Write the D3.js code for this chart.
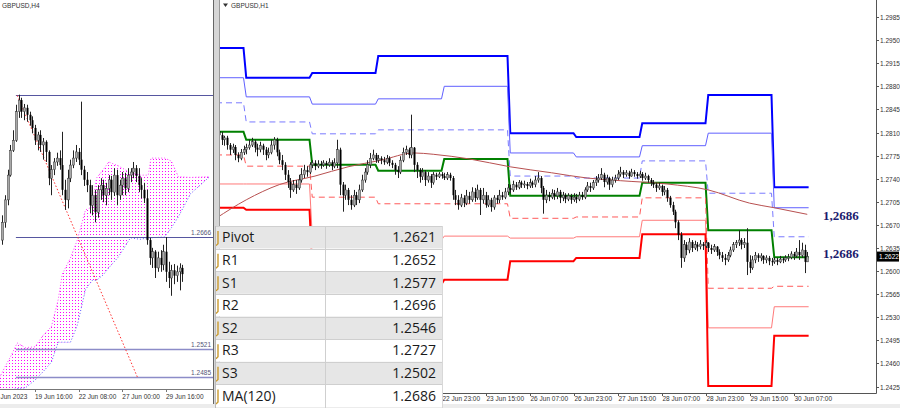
<!DOCTYPE html>
<html><head><meta charset="utf-8">
<script src="https://cdn.jsdelivr.net/npm/d3@7"></script>
<style>html,body{margin:0;padding:0;background:#fff;}svg{display:block;font-family:"Liberation Sans",Arial,sans-serif;}</style>
</head><body><svg id="c" width="900" height="408"></svg>
<script>
const PIP = 1e-4;
// ---------- H4 (left) data, in pips (x1e-4) ----------
const h4Open0 = 12662;
const h4Close = [12685,12714,12746,12778,12791,12828,12843,12828,12833,12824,12817,12807,12791,12798,12785,12789,12776,12742,12753,12763,12768,12759,12727,12714,12742,12759,12768,12776,12766,12753,12740,12733,12707,12720,12698,12727,12733,12720,12729,12740,12724,12746,12720,12733,12742,12729,12746,12750,12755,12745,12733,12727,12716,12662,12639,12647,12626,12639,12630,12647,12621,12613,12623,12616,12621,12626,12618];
const h4High = [12694,12720,12753,12785,12804,12837,12850,12846,12838,12837,12828,12822,12811,12802,12804,12794,12791,12778,12759,12768,12775,12778,12802,12740,12753,12766,12778,12785,12781,12841,12758,12750,12740,12733,12727,12733,12742,12740,12736,12746,12745,12755,12753,12740,12750,12749,12755,12755,12763,12759,12755,12742,12736,12727,12665,12652,12649,12647,12649,12656,12666,12634,12630,12631,12629,12632,12630];
const h4Low = [12656,12678,12707,12744,12776,12789,12820,12820,12817,12815,12810,12800,12785,12778,12776,12766,12763,12733,12720,12746,12758,12753,12720,12701,12703,12737,12755,12763,12759,12746,12732,12724,12697,12694,12685,12691,12714,12711,12707,12720,12714,12719,12707,12714,12720,12720,12724,12737,12742,12737,12724,12716,12710,12656,12630,12626,12613,12621,12621,12623,12608,12600,12590,12605,12608,12597,12608];
const h4TickIdx = [12,28,44,60];
const h4TickLbl = ["19 Jun 16:00","22 Jun 08:00","27 Jun 00:00","29 Jun 16:00"];
const h4FirstLbl = "Jun 2023";
const h4Levels = [1.2850,1.2666,1.2521,1.2485];
const h4LevelLbl = ["","1.2666","1.2521","1.2485"];
const h4TrendIdx = [5.5,49.5];
const h4TrendVal = [1.2849,1.2485];
const cloudIdx = [-1,1,3,5.5,8.5,12,15,18,20.5,22,25,27.5,30.5,33,34.5,37,39,42.5,47,50.5,53.5,54.5,59.5,62,64.5,69,76];
const cloudTop = [1.2484,1.2498,1.2511,1.2529,1.2523,1.2524,1.2539,1.2550,1.2585,1.2618,1.2639,1.2662,1.2701,1.2705,1.2742,1.2753,1.2763,1.2758,1.2749,1.2746,1.2746,1.2768,1.2768,1.2764,1.2744,1.2743,1.2744];
const cloudBot = [1.2468,1.2468,1.2468,1.2470,1.2471,1.2481,1.2492,1.2504,1.2530,1.2530,1.2530,1.2552,1.2598,1.2610,1.2610,1.2617,1.2626,1.2640,1.2665,1.2663,1.2665,1.2665,1.2666,1.2678,1.2692,1.2722,1.2744];

// ---------- H1 (right) data, in pips ----------
const h1Open0 = 12812;
const h1Close = [12806,12799,12802,12791,12784,12788,12776,12771,12780,12784,
12787,12791,12796,12787,12784,12790,12784,12776,12780,12791,
12799,12780,12768,12761,12746,12735,12723,12731,12726,12738,
12746,12753,12750,12761,12764,12759,12762,12761,12764,12761,
12765,12759,12764,12784,12731,12715,12723,12708,12700,12715,
12708,12723,12738,12750,12761,12771,12776,12768,12771,12768,
12765,12771,12764,12761,12753,12750,12768,12780,12784,12776,
12787,12761,12753,12743,12750,12738,12744,12734,12746,12743,
12747,12744,12741,12746,12741,12715,12708,12700,12711,12703,
12714,12708,12720,12711,12723,12708,12715,12700,12708,12697,
12711,12708,12715,12712,12720,12726,12723,12731,12727,12734,
12731,12732,12729,12734,12731,12738,12741,12726,12708,12715,
12712,12718,12714,12720,12711,12715,12709,12714,12708,12712,
12709,12715,12712,12723,12729,12726,12734,12738,12741,12746,
12735,12741,12731,12738,12741,12747,12750,12746,12749,12744,
12750,12747,12744,12747,12741,12744,12738,12734,12731,12726,
12729,12720,12723,12711,12700,12690,12674,12655,12620,12640,
12632,12644,12635,12640,12637,12641,12638,12643,12635,12632,
12637,12629,12624,12620,12617,12624,12632,12640,12643,12647,
12640,12643,12614,12605,12617,12624,12620,12623,12617,12620,
12615,12614,12617,12614,12618,12617,12620,12621,12626,12623,
12629,12624,12632,12614,12622];
const h1High = [12817,12811,12805,12805,12794,12793,12791,12780,12785,12790,
12793,12799,12802,12799,12793,12796,12793,12788,12787,12799,
12803,12802,12784,12776,12765,12753,12741,12738,12738,12746,
12756,12761,12759,12765,12768,12768,12768,12767,12768,12767,
12771,12768,12771,12799,12787,12735,12731,12726,12715,12723,
12720,12731,12746,12756,12768,12779,12784,12779,12776,12774,
12773,12776,12774,12768,12764,12759,12774,12787,12790,12787,
12837,12788,12765,12756,12756,12753,12750,12747,12750,12749,
12750,12750,12749,12750,12749,12744,12723,12715,12717,12715,
12723,12720,12727,12726,12731,12726,12726,12720,12715,12711,
12715,12715,12723,12720,12726,12732,12731,12737,12735,12738,
12737,12737,12735,12740,12737,12744,12750,12744,12729,12723,
12720,12724,12723,12726,12723,12720,12718,12718,12717,12718,
12717,12720,12720,12727,12735,12734,12738,12744,12747,12756,
12749,12746,12743,12743,12746,12753,12758,12753,12753,12752,
12755,12753,12750,12752,12750,12749,12746,12741,12738,12734,
12734,12731,12729,12726,12714,12705,12693,12677,12659,12647,
12644,12650,12647,12646,12644,12647,12644,12647,12644,12640,
12641,12638,12633,12629,12626,12629,12637,12644,12647,12662,
12650,12650,12665,12624,12623,12629,12627,12627,12624,12624,
12623,12620,12621,12620,12623,12621,12624,12626,12630,12629,
12635,12647,12643,12640,12629];
const h1Low = [12799,12791,12790,12784,12776,12779,12768,12765,12768,12776,
12777,12784,12788,12780,12774,12780,12776,12768,12771,12777,
12784,12774,12762,12753,12738,12726,12711,12720,12717,12723,
12734,12741,12743,12747,12756,12753,12756,12755,12758,12755,
12758,12753,12756,12756,12715,12690,12708,12700,12693,12697,
12700,12703,12720,12734,12746,12756,12768,12764,12764,12762,
12761,12762,12759,12756,12746,12741,12747,12765,12776,12771,
12771,12750,12741,12734,12738,12729,12734,12726,12731,12738,
12741,12740,12738,12738,12737,12708,12700,12693,12697,12697,
12700,12702,12705,12705,12708,12685,12702,12696,12697,12690,
12693,12702,12703,12708,12709,12715,12718,12720,12723,12724,
12726,12726,12724,12726,12726,12727,12734,12718,12687,12703,
12706,12709,12708,12709,12703,12706,12703,12706,12702,12705,
12703,12706,12708,12709,12720,12720,12723,12729,12734,12738,
12727,12731,12723,12727,12734,12738,12743,12741,12743,12740,
12743,12743,12740,12741,12737,12738,12734,12729,12726,12720,
12723,12714,12715,12705,12696,12685,12665,12647,12605,12614,
12624,12627,12629,12632,12630,12633,12632,12635,12629,12626,
12629,12623,12618,12614,12609,12614,12621,12629,12635,12638,
12633,12635,12594,12597,12602,12612,12614,12615,12611,12612,
12609,12608,12611,12609,12612,12612,12614,12615,12618,12617,
12620,12617,12620,12597,12614];
// daily pivot levels (pips), one value per day
const dayStart = [-1,10,34,58,82,106,130,154,178,202];
const lastBar = 214.5;
const lvR3 = [12938,12893,12900,12926,12926,12809,12803,12824,12867,12727];
const lvR2 = [12893,12864,12853,12861,12880,12779,12773,12790,12809,12696];
const lvR1 = [12855,12826,12808,12814,12814,12744,12741,12767,12718,12652];
const lvP  = [12811,12799,12761,12752,12770,12714,12714,12734,12662,12621];
const lvS1 = [12776,12759,12712,12702,12702,12680,12682,12711,12574,12577];
const lvS2 = [12732,12732,12653,12647,12653,12650,12652,12677,12514,12546];
const lvS3 = [12696,12693,12605,12580,12587,12615,12620,12656,12426,12502];
const maIdx = [-1,10,22,35,47,59,71,78,91,106,121,134,146,163,178,193,202,214];
const maVal = [12680,12708,12731,12744,12758,12768,12779,12777,12770,12758,12749,12741,12737,12732,12723,12703,12696,12686];
const h1TickIdx = [81,97,113,129,145,161,177,193,209];
const h1TickLbl = ["22 Jun 23:00","23 Jun 15:00","26 Jun 07:00","26 Jun 23:00","27 Jun 15:00","28 Jun 07:00","28 Jun 23:00","29 Jun 15:00","30 Jun 07:00"];
const yTickLbl = ["1.2985","1.2950","1.2915","1.2880","1.2845","1.2810","1.2775","1.2740","1.2705","1.2670","1.2635","1.2600","1.2565","1.2530","1.2495","1.2460","1.2425"];
const lastPrice = "1.2622";
const maLabel = "1,2686";
// table
const tblNames = ["Pivot","R1","S1","R2","S2","R3","S3","MA(120)"];
const tblValues = ["1.2621","1.2652","1.2577","1.2696","1.2546","1.2727","1.2502","1.2686"];

// ================= drawing =================
const svg = d3.select("#c");
const defs = svg.append("defs");
defs.append("clipPath").attr("id","clipL").append("rect").attr("x",0).attr("y",0).attr("width",213).attr("height",389);
defs.append("clipPath").attr("id","clipR").append("rect").attr("x",220).attr("y",0).attr("width",656).attr("height",393);
const pat = defs.append("pattern").attr("id","kumo").attr("patternUnits","userSpaceOnUse").attr("width",3).attr("height",3);
pat.append("rect").attr("width",1).attr("height",1).attr("fill","#ff00ff");

svg.append("rect").attr("width",900).attr("height",408).attr("fill","#fff");

function candles(g, x, y, open0, C, H, L, bodyW, bullFill) {
  const data = C.map((c,i)=>({i, o: i? C[i-1]:open0, c, h:H[i], l:L[i]}));
  g.selectAll(null).data(data).join("line")
    .attr("x1",d=>Math.round(x(d.i))+0.5).attr("x2",d=>Math.round(x(d.i))+0.5)
    .attr("y1",d=>y(d.h*PIP)).attr("y2",d=>y(d.l*PIP))
    .attr("stroke","#222").attr("stroke-width",1);
  g.selectAll(null).data(data).join("rect")
    .attr("x",d=>Math.round(x(d.i))+0.5-bodyW/2)
    .attr("y",d=>y(Math.max(d.o,d.c)*PIP))
    .attr("width",bodyW)
    .attr("height",d=>Math.max(1,Math.abs(y(d.o*PIP)-y(d.c*PIP))))
    .attr("fill",d=>d.c>=d.o?bullFill:"#000")
    .attr("stroke",d=>d.c>=d.o?"#333":"none").attr("stroke-width",0.5);
}

// ---------- LEFT PANEL (H4) ----------
const xL = d3.scaleLinear().domain([12,60]).range([35,166]);
const yL = d3.scaleLinear().domain([1.2485,1.2666]).range([377,237]);
const gL = svg.append("g").attr("clip-path","url(#clipL)");
const cl = cloudIdx.map((d,i)=>({i:d,t:cloudTop[i],b:cloudBot[i]}));
gL.append("path").datum(cl).attr("d",d3.area().x(d=>xL(d.i)).y0(d=>yL(d.b)).y1(d=>yL(d.t))).attr("fill","url(#kumo)");
gL.append("path").datum(cl).attr("d",d3.line().x(d=>xL(d.i)).y(d=>yL(d.b))).attr("fill","none").attr("stroke","#5a5aff").attr("stroke-width",1).attr("stroke-dasharray","1,2");
gL.append("path").datum(cl).attr("d",d3.line().x(d=>xL(d.i)).y(d=>yL(d.t))).attr("fill","none").attr("stroke","#ff40ff").attr("stroke-width",1).attr("stroke-dasharray","1,2");
h4Levels.forEach((v,k)=>{
  gL.append("line").attr("x1",xL(5)).attr("x2",213).attr("y1",Math.round(yL(v))+0.5).attr("y2",Math.round(yL(v))+0.5)
    .attr("stroke",k>=2?"#8c8cc8":"#5656a0").attr("stroke-width",k>=2?1.6:1);
  if (h4LevelLbl[k]) gL.append("text").attr("x",211).attr("y",Math.round(yL(v))-2).attr("text-anchor","end")
    .attr("font-size",6.5).attr("fill","#555577").text(h4LevelLbl[k]);
});
gL.append("line").attr("x1",xL(h4TrendIdx[0])).attr("y1",yL(h4TrendVal[0])).attr("x2",xL(h4TrendIdx[1])).attr("y2",yL(h4TrendVal[1]))
  .attr("stroke","#ff3030").attr("stroke-width",1).attr("stroke-dasharray","1.5,2");
candles(gL, xL, yL, h4Open0, h4Close, h4High, h4Low, 2, "#a8a8a8");
// left axis
svg.append("line").attr("x1",0).attr("x2",213).attr("y1",389.5).attr("y2",389.5).attr("stroke","#777");
svg.append("text").attr("x",0.5).attr("y",399).attr("font-size",6.5).attr("fill","#333").text(h4FirstLbl);
h4TickIdx.forEach((t,k)=>{
  svg.append("line").attr("x1",Math.round(xL(t))+0.5).attr("x2",Math.round(xL(t))+0.5).attr("y1",389).attr("y2",392).attr("stroke","#777");
  svg.append("text").attr("x",xL(t)).attr("y",399).attr("font-size",6.5).attr("fill","#333").text(h4TickLbl[k]);
});
svg.append("text").attr("x",2).attr("y",8).attr("font-size",6.5).attr("fill","#333").text("GBPUSD,H4");

// ---------- RIGHT PANEL (H1) ----------
const xR = d3.scaleLinear().domain([82,210]).range([444.25,796.25]);
const yR = d3.scaleLinear().domain([1.2425,1.2985]).range([386.6,17]);
const gR = svg.append("g").attr("clip-path","url(#clipR)");
function stepPts(vals){
  const pts=[];
  vals.forEach((v,d)=>{ const s=dayStart[d]; const e = d<vals.length-1 ? dayStart[d+1]-1 : lastBar; pts.push([s,v],[e,v]); });
  return pts;
}
const stepLine = d3.line().x(p=>xR(p[0])).y(p=>yR(p[1]*PIP));
const levelDefs = [
  [lvR3,"#0000ff",2,null],[lvR2,"#6060ff",1,null],[lvR1,"#7a7aff",1,"6,4"],
  [lvP,"#008000",2,null],
  [lvS1,"#ff5a5a",1,"6,4"],[lvS2,"#ff7a7a",1,null],[lvS3,"#ff0000",2,null]
];
levelDefs.forEach(([vals,col,w,dash])=>{
  gR.append("path").datum(stepPts(vals)).attr("d",stepLine).attr("fill","none")
    .attr("stroke",col).attr("stroke-width",w).attr("stroke-dasharray",dash);
});
gR.append("path").datum(maIdx.map((d,i)=>[d,maVal[i]])).attr("d",d3.line().curve(d3.curveMonotoneX).x(p=>xR(p[0])).y(p=>yR(p[1]*PIP)))
  .attr("fill","none").attr("stroke","#b85050").attr("stroke-width",1);
candles(gR, xR, yR, h1Open0, h1Close, h1High, h1Low, 2, "#a8a8a8");

// MA labels
[219.5,258].forEach(yy=>{
  svg.append("text").attr("x",823).attr("y",yy).attr("font-family","'Liberation Serif','DejaVu Serif',serif")
    .attr("font-weight","bold").attr("font-size",13).attr("fill","#1c1c6e").text(maLabel);
});

// right axis
svg.append("line").attr("x1",876.5).attr("x2",876.5).attr("y1",0).attr("y2",393.5).attr("stroke","#555");
svg.append("line").attr("x1",219).attr("x2",876.5).attr("y1",393.5).attr("y2",393.5).attr("stroke","#555");
yTickLbl.forEach(t=>{
  const yy = Math.round(yR(+t))+0.5;
  svg.append("line").attr("x1",876).attr("x2",879).attr("y1",yy).attr("y2",yy).attr("stroke","#555");
  svg.append("text").attr("x",880).attr("y",yy+2.3).attr("font-size",6.5).attr("fill","#333").text(t);
});
const py = yR(+lastPrice);
svg.append("rect").attr("x",877).attr("y",py-5).attr("width",22).attr("height",10).attr("fill","#000");
svg.append("text").attr("x",879).attr("y",py+2.3).attr("font-size",6.5).attr("fill","#fff").text(lastPrice);
h1TickIdx.forEach((t,k)=>{
  const xx = Math.round(xR(t))+0.5;
  svg.append("line").attr("x1",xx).attr("x2",xx).attr("y1",393).attr("y2",396).attr("stroke","#555");
  svg.append("text").attr("x",xx).attr("y",400.5).attr("font-size",6.5).attr("fill","#333").text(h1TickLbl[k]);
});
svg.append("path").attr("d","M223,3.5L228,3.5L225.5,7Z").attr("fill","#333");
svg.append("text").attr("x",231).attr("y",8).attr("font-size",6.5).attr("fill","#333").text("GBPUSD,H1");

// separators and frame
svg.append("rect").attr("x",213).attr("y",0).attr("width",6).attr("height",408).attr("fill","#d6d6d6");
svg.append("line").attr("x1",213.5).attr("x2",213.5).attr("y1",0).attr("y2",408).attr("stroke","#666");
svg.append("line").attr("x1",219.5).attr("x2",219.5).attr("y1",0).attr("y2",408).attr("stroke","#999");
svg.append("rect").attr("x",0).attr("y",404).attr("width",900).attr("height",4).attr("fill","#ececec");

// ---------- TABLE ----------
const gT = svg.append("g");
const rowY = d3.scaleLinear().domain([0,8]).range([226,407]);
tblNames.forEach((n,r)=>{
  const y0 = rowY(r), h = rowY(r+1)-rowY(r);
  gT.append("rect").attr("x",215).attr("y",y0).attr("width",227).attr("height",h).attr("fill",r%2===0?"#e6e6e6":"#ffffff");
  gT.append("line").attr("x1",215).attr("x2",442).attr("y1",Math.round(y0)+0.5).attr("y2",Math.round(y0)+0.5).attr("stroke","#cfcfcf");
  gT.append("path").attr("d",`M218,${y0+5}L218,${y0+h-5}L216,${y0+h-3}`).attr("fill","none").attr("stroke","#c99a2e").attr("stroke-width",1.4);
  gT.append("text").attr("x",222).attr("y",y0+h/2+5).attr("font-family","'Open Sans','Noto Sans',sans-serif").attr("font-size",14).attr("fill","#1a1a1a").text(n);
  gT.append("text").attr("x",436).attr("y",y0+h/2+5).attr("text-anchor","end").attr("font-family","'Open Sans','Noto Sans',sans-serif").attr("font-size",14).attr("fill","#1a1a1a").text(tblValues[r]);
});
gT.append("line").attr("x1",325.5).attr("x2",325.5).attr("y1",226).attr("y2",408).attr("stroke","#cfcfcf");
gT.append("line").attr("x1",442.5).attr("x2",442.5).attr("y1",226).attr("y2",408).attr("stroke","#d8d8d8");
gT.append("line").attr("x1",215.5).attr("x2",215.5).attr("y1",226).attr("y2",408).attr("stroke","#bbb");
</script></body></html>
